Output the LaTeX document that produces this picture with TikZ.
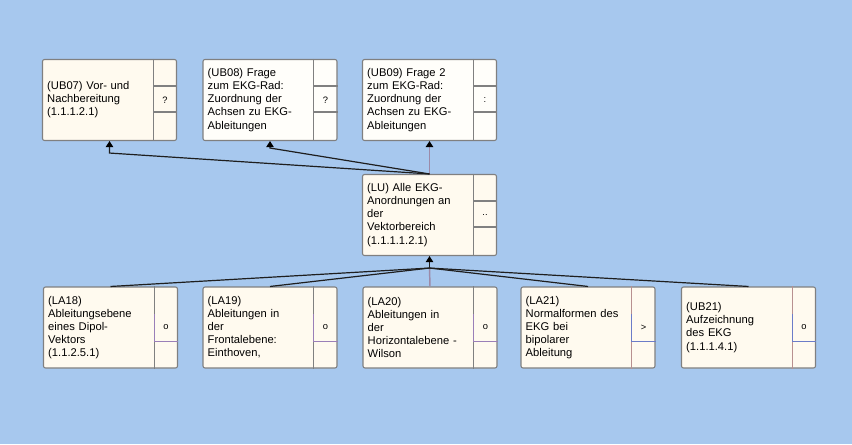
\documentclass[tikz,border=0pt]{standalone}
\usepackage{fontspec}
\setmainfont{Liberation Sans}
\usetikzlibrary{calc,arrows.meta}

\definecolor{canvas}{HTML}{A7C8EE}
\definecolor{cream}{HTML}{FFFAEF}
\definecolor{paper}{HTML}{FFFEFA}
\definecolor{frame}{HTML}{808080}
\definecolor{wire}{HTML}{1E1E1E}
\definecolor{stem}{HTML}{9C8AA8}
\definecolor{mark}{HTML}{9A7FB8}
\definecolor{rosy}{HTML}{B89090}
\definecolor{bluish}{HTML}{6C7CC8}

\tikzset{
  card/.style={draw=frame, line width=0.8pt, rounded corners=1.5pt, fill=cream,
    minimum width=100.5pt, minimum height=60.75pt, inner sep=0pt},
  whitecard/.style={card, fill=paper},
  label/.style={anchor=west, inner sep=0pt, text width=79pt, align=left,
    font=\fontsize{8.4}{9.8}\selectfont},
  glyph/.style={inner sep=0pt, font=\fontsize{7}{8}\selectfont},
  sepline/.style={draw=frame, line width=0.8pt},
  conn/.style={draw=wire, line width=0.9pt},
  riser/.style={draw=stem, line width=1.1pt},
  tip/.style={-{Triangle[length=4.5pt,width=5.5pt,color=black]}},
}

\begin{document}
\begin{tikzpicture}[x=0.75pt,y=-0.75pt]
  \fill[canvas] (0,0) rectangle (852,444);
  \useasboundingbox (0,0) rectangle (852,444);

  % upper row
  \node[card] (t1) at (109.5,100) {};
  \node[whitecard] (t2) at (270,100) {};
  \node[whitecard] (t3) at (429.5,100) {};
  % central card
  \node[card] (m) at (429.5,215) {};
  % lower row
  \node[card] (b1) at (110.5,327.5) {};
  \node[card] (b2) at (270,327.5) {};
  \node[card] (b3) at (430,327.5) {};
  \node[card] (b4) at (588,327.5) {};
  \node[card] (b5) at (748.5,327.5) {};

  % side columns
  \foreach \c in {t1,t2,t3,m}{
    \draw[sepline] ($(\c.north east)+(-24,0)$) -- ($(\c.south east)+(-24,0)$);
    \draw[sepline] ($(\c.north east)+(-24,27)$) -- ($(\c.north east)+(0,27)$);
    \draw[sepline] ($(\c.north east)+(-24,53)$) -- ($(\c.north east)+(0,53)$);
  }
  \foreach \c in {b1,b2,b3}{
    \draw[sepline] ($(\c.north east)+(-24,0)$) -- ($(\c.south east)+(-24,0)$);
    \draw[draw=mark, line width=0.8pt] ($(\c.north east)+(-24,28)$) -- ($(\c.north east)+(-24,55)$) -- ($(\c.north east)+(0,55)$);
  }
  \foreach \c in {b4,b5}{
    \draw[draw=rosy, line width=0.8pt] ($(\c.north east)+(-24,0)$) -- ($(\c.south east)+(-24,0)$);
    \draw[draw=bluish, line width=0.8pt] ($(\c.north east)+(-24,28)$) -- ($(\c.north east)+(-24,55)$) -- ($(\c.north east)+(0,55)$);
  }

  % side column markers
  \node[glyph] (t1s) at ($(t1.east)+(-12,0)$) {?};
  \node[glyph] (t2s) at ($(t2.east)+(-12,0)$) {?};
  \node[glyph] (t3s) at ($(t3.east)+(-12,0)$) {:};
  \node[glyph] (ms)  at ($(m.east)+(-12,0)$) {..};
  \node[glyph] (b1s) at ($(b1.east)+(-12,0)$) {o};
  \node[glyph] (b2s) at ($(b2.east)+(-12,0)$) {o};
  \node[glyph] (b3s) at ($(b3.east)+(-12,0)$) {o};
  \node[glyph] (b4s) at ($(b4.east)+(-12,0)$) {>};
  \node[glyph] (b5s) at ($(b5.east)+(-12,0)$) {o};

  % card texts
  \node[label] (t1t) at ($(t1.west)+(5,0)$) {(UB07) Vor- und\\Nachbereitung\\(1.1.1.2.1)};
  \node[label] (t2t) at ($(t2.west)+(5,0)$) {(UB08) Frage\\zum EKG-Rad:\\Zuordnung der\\Achsen zu EKG-\\Ableitungen};
  \node[label] (t3t) at ($(t3.west)+(5,0)$) {(UB09) Frage 2\\zum EKG-Rad:\\Zuordnung der\\Achsen zu EKG-\\Ableitungen};
  \node[label] (mt)  at ($(m.west)+(5,0)$)  {(LU) Alle EKG-\\Anordnungen an\\der\\Vektorbereich\\(1.1.1.1.2.1)};
  \node[label] (b1t) at ($(b1.west)+(5,0)$) {(LA18)\\Ableitungsebene\\eines Dipol-\\Vektors\\(1.1.2.5.1)};
  \node[label] (b2t) at ($(b2.west)+(5,0)$) {(LA19)\\Ableitungen in\\der\\Frontalebene:\\Einthoven,};
  \node[label] (b3t) at ($(b3.west)+(5,0)$) {(LA20)\\Ableitungen in\\der\\Horizontalebene -\\Wilson};
  \node[label] (b4t) at ($(b4.west)+(5,0)$) {(LA21)\\Normalformen des\\EKG bei\\bipolarer\\Ableitung};
  \node[label] (b5t) at ($(b5.west)+(5,0)$) {(UB21)\\Aufzeichnung\\des EKG\\(1.1.1.4.1)};

  % links from the central card up to the upper row
  \draw[riser,tip] (m.north) -- (t3.south);
  \draw[conn,tip] (m.north) -- ($(t2.south)+(0,7)$) -- (t2.south);
  \draw[conn,tip] (m.north) -- ($(t1.south)+(0,12)$) -- (t1.south);

  % links from the lower row up to the central card
  \coordinate (jb) at ($(m.south)+(0,12)$);
  \draw[riser] (b3.north) -- (jb);
  \draw[conn] (b1.north) -- (jb);
  \draw[conn] (b2.north) -- (jb);
  \draw[conn] (b4.north) -- (jb);
  \draw[conn] (b5.north) -- (jb);
  \draw[conn,tip] (jb) -- (m.south);
\end{tikzpicture}
\end{document}
